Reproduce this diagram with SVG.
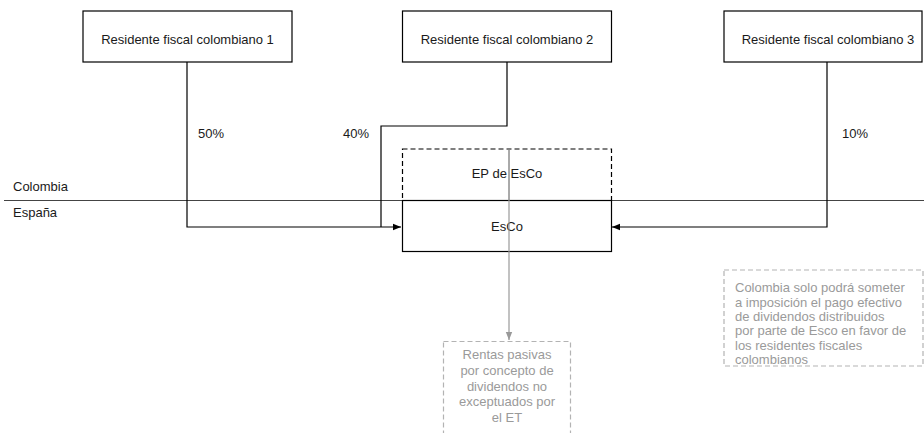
<svg xmlns="http://www.w3.org/2000/svg" width="924" height="433" viewBox="0 0 924 433">
<style>
.box{fill:#fff;stroke:#000;stroke-width:1.2}
.dbox{fill:none;stroke:#000;stroke-width:1.2;stroke-dasharray:5 3}
.gbox{fill:#fff;stroke:#b3b3b3;stroke-width:1.2;stroke-dasharray:5 3}
.t{font-family:"Liberation Sans",Arial,sans-serif;font-size:13px;fill:#1a1a1a}
.c{text-anchor:middle}
.g{fill:#9a9a9a}
.ln{fill:none;stroke:#000;stroke-width:1.2}
.gl{fill:none;stroke:#999;stroke-width:1.2}
</style>
<defs>
<marker id="ah" viewBox="0 0 10 10" refX="10" refY="5" markerWidth="8" markerHeight="8" markerUnits="userSpaceOnUse" orient="auto"><path d="M0,1 L10,5 L0,9 Z" fill="#000"/></marker>
<marker id="ahg" viewBox="0 0 10 10" refX="10" refY="5" markerWidth="8" markerHeight="8" markerUnits="userSpaceOnUse" orient="auto"><path d="M0,1 L10,5 L0,9 Z" fill="#999"/></marker>
</defs>
<line x1="4" y1="200.5" x2="924" y2="200.5" stroke="#444" stroke-width="1"/>
<text class="t" x="13" y="191">Colombia</text>
<text class="t" x="13" y="217">España</text>
<g id="connectors">
<polyline class="ln" points="187,62 187,227 401,227" marker-end="url(#ah)"/>
<polyline class="ln" points="507,62 507,126 381,126 381,227"/>
<polyline class="ln" points="827,62 827,227 612,227" marker-end="url(#ah)"/>
<line class="gl" x1="509" y1="149" x2="509" y2="340" marker-end="url(#ahg)"/>
<text class="t" x="198" y="138">50%</text>
<text class="t" x="343" y="138">40%</text>
<text class="t" x="842" y="138">10%</text>
</g>
<g id="r1"><rect class="box" x="83" y="11" width="209" height="51"/><text class="t c" x="187.5" y="44">Residente fiscal colombiano 1</text></g>
<g id="r2"><rect class="box" x="402.5" y="11" width="209" height="51"/><text class="t c" x="507" y="44">Residente fiscal colombiano 2</text></g>
<g id="r3"><rect class="box" x="724" y="11" width="198" height="51"/><text class="t c" x="828" y="44">Residente fiscal colombiano 3</text></g>
<g id="ep"><rect class="dbox" x="402.5" y="149" width="209" height="51.5"/><text class="t c" x="507" y="178">EP de EsCo</text></g>
<g id="esco"><rect class="box" x="402.5" y="200.5" width="209" height="51"/><text class="t c" x="507" y="231">EsCo</text></g>
<line class="gl" x1="509" y1="149" x2="509" y2="252"/>
<g id="rentas"><rect class="gbox" x="443.5" y="341.5" width="127" height="100"/>
<text class="t c g" x="507" y="359">Rentas pasivas</text>
<text class="t c g" x="507" y="375">por concepto de</text>
<text class="t c g" x="507" y="390.5">dividendos no</text>
<text class="t c g" x="507" y="406">exceptuados por</text>
<text class="t c g" x="507" y="421.5">el ET</text></g>
<g id="nota"><rect class="gbox" x="724" y="270" width="199" height="96"/>
<text class="t g" x="735" y="292">Colombia solo podrá someter</text>
<text class="t g" x="735" y="306.5">a imposición el pago efectivo</text>
<text class="t g" x="735" y="321">de dividendos distribuidos</text>
<text class="t g" x="735" y="335">por parte de Esco en favor de</text>
<text class="t g" x="735" y="349.5">los residentes fiscales</text>
<text class="t g" x="735" y="364">colombianos</text></g>
</svg>
